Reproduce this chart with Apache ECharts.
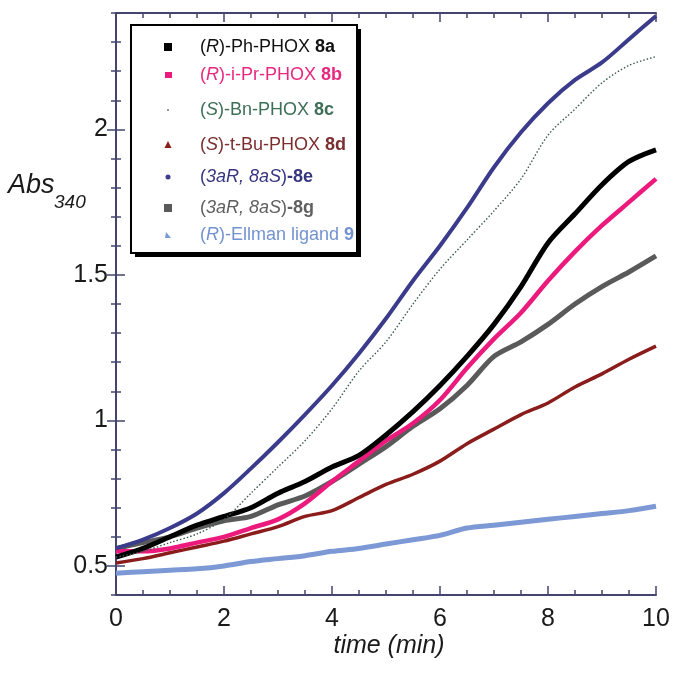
<!DOCTYPE html>
<html>
<head>
<meta charset="utf-8">
<script src="https://cdn.jsdelivr.net/npm/echarts@6/dist/echarts.min.js"></script>
<style>html,body{margin:0;padding:0;background:#fff}#c{width:675px;height:675px}</style>
</head>
<body>
<div id="c"></div>
<script>
// time (min)
const time = [0,0.5,1,1.5,2,2.5,3,3.5,4,4.5,5,5.5,6,6.5,7,7.5,8,8.5,9,9.5,10];
// Abs340 for each ligand
const ph8a   = [0.53,0.56,0.60,0.64,0.67,0.70,0.75,0.79,0.84,0.88,0.95,1.03,1.12,1.22,1.33,1.46,1.61,1.71,1.81,1.89,1.93];
const iPr8b  = [0.55,0.55,0.56,0.58,0.60,0.63,0.66,0.715,0.79,0.86,0.93,0.99,1.07,1.18,1.28,1.37,1.48,1.58,1.67,1.75,1.83];
const bn8c   = [0.53,0.55,0.58,0.61,0.66,0.75,0.84,0.93,1.04,1.17,1.27,1.40,1.52,1.62,1.72,1.83,1.98,2.07,2.16,2.22,2.25];
const tBu8d  = [0.51,0.525,0.545,0.565,0.585,0.61,0.635,0.67,0.69,0.735,0.78,0.815,0.86,0.92,0.97,1.02,1.06,1.115,1.16,1.21,1.255];
const l8e    = [0.56,0.59,0.63,0.68,0.75,0.835,0.925,1.02,1.12,1.23,1.35,1.48,1.60,1.73,1.87,1.99,2.09,2.17,2.23,2.31,2.39];
const l8g    = [0.56,0.58,0.60,0.63,0.655,0.67,0.71,0.74,0.79,0.85,0.91,0.98,1.04,1.12,1.22,1.27,1.33,1.40,1.46,1.51,1.565];
const ellman9= [0.475,0.48,0.485,0.49,0.50,0.515,0.525,0.535,0.55,0.56,0.575,0.59,0.605,0.63,0.64,0.65,0.66,0.67,0.68,0.69,0.705];
// tick labels
const yMajor = [0.5,1,1.5,2];

const frame = '#44446e';
const FONT = '"Liberation Sans", Arial, sans-serif';

function pts(arr){ return time.map((t,i)=>[t, arr[i]]); }

const chart = echarts.init(document.getElementById('c'));

const baseX = {type:'value', min:0, max:10, splitLine:{show:false}};
const baseY = {type:'value', min:0.4, max:2.4, splitLine:{show:false}};

const option = {
  animation:false,
  backgroundColor:'#fff',
  grid:{left:116, right:19, top:13, bottom:80},
  xAxis:[
    Object.assign({}, baseX, {position:'bottom', interval:0.5,
      axisLine:{show:true, lineStyle:{color:frame, width:2}},
      axisTick:{show:true, inside:true, length:5, lineStyle:{color:frame, width:1.5}},
      axisLabel:{show:true, margin:12, color:'#1a1a1a', fontSize:25, fontFamily:FONT,
        formatter:v => (Math.abs(v%2)<1e-9 ? String(v) : '')}}),
    Object.assign({}, baseX, {position:'bottom', interval:2,
      axisLine:{show:false}, axisLabel:{show:false},
      axisTick:{show:true, inside:true, length:9, lineStyle:{color:frame, width:1.5}}}),
    Object.assign({}, baseX, {position:'top', interval:0.5,
      axisLine:{show:true, lineStyle:{color:frame, width:2}}, axisLabel:{show:false},
      axisTick:{show:true, inside:true, length:5, lineStyle:{color:frame, width:1.5}}}),
    Object.assign({}, baseX, {position:'top', interval:2,
      axisLine:{show:false}, axisLabel:{show:false},
      axisTick:{show:true, inside:true, length:9, lineStyle:{color:frame, width:1.5}}})
  ],
  yAxis:[
    Object.assign({}, baseY, {position:'left', interval:0.1,
      axisLine:{show:true, lineStyle:{color:frame, width:2}},
      axisTick:{show:true, inside:true, length:5, lineStyle:{color:frame, width:1.5}},
      axisLabel:{show:true, margin:8, color:'#1a1a1a', fontSize:25, fontFamily:FONT,
        customValues: yMajor, formatter:v => String(Math.round(v*2)/2)}}),
    Object.assign({}, baseY, {position:'left', interval:0.1,
      axisLine:{show:false}, axisLabel:{show:false},
      axisTick:{show:true, inside:true, length:9, customValues: yMajor, lineStyle:{color:frame, width:1.5}}}),
    Object.assign({}, baseY, {position:'right', interval:0.1,
      axisLine:{show:true, lineStyle:{color:frame, width:2}}, axisLabel:{show:false},
      axisTick:{show:true, inside:true, length:5, lineStyle:{color:frame, width:1.5}}}),
    Object.assign({}, baseY, {position:'right', interval:0.1,
      axisLine:{show:false}, axisLabel:{show:false},
      axisTick:{show:true, inside:true, length:9, customValues: yMajor, lineStyle:{color:frame, width:1.5}}})
  ],
  series:[
    {name:'9', type:'line', data:pts(ellman9), showSymbol:false, smooth:0.3, color:'#7c99d6', lineStyle:{width:5, color:'#7c99d6'}},
    {name:'8d', type:'line', data:pts(tBu8d), showSymbol:false, smooth:0.3, color:'#8a1c1c', lineStyle:{width:3.5, color:'#8a1c1c'}},
    {name:'8g', type:'line', data:pts(l8g), showSymbol:false, smooth:0.3, color:'#5a5a5a', lineStyle:{width:5, color:'#5a5a5a'}},
    {name:'8b', type:'line', data:pts(iPr8b), showSymbol:false, smooth:0.3, color:'#ec1a7c', lineStyle:{width:4.5, color:'#ec1a7c'}},
    {name:'8a', type:'line', data:pts(ph8a), showSymbol:false, smooth:0.3, color:'#000000', lineStyle:{width:5, color:'#000000'}},
    {name:'8c', type:'line', data:pts(bn8c), showSymbol:false, smooth:0.3, color:'#3c5a4c', lineStyle:{width:1.4, color:'#3c5a4c', type:[1.5,2]}},
    {name:'8e', type:'line', data:pts(l8e), showSymbol:false, smooth:0.3, color:'#3b3b8c', lineStyle:{width:4, color:'#3b3b8c'}}
  ]
};

function richFor(c){
  return {
    n:{fill:c, fontSize:18, fontFamily:FONT},
    i:{fill:c, fontSize:18, fontFamily:FONT, fontStyle:'italic'},
    b:{fill:c, fontSize:18, fontFamily:FONT, fontWeight:'bold'}
  };
}
const legendRows = [
  {y:47,  c:'#111111', t:'{n|(}{i|R}{n|)-Ph-PHOX }{b|8a}', m:{type:'rect', shape:{x:164,y:43,width:8,height:8}}},
  {y:75,  c:'#e8277f', t:'{n|(}{i|R}{n|)-i-Pr-PHOX }{b|8b}', m:{type:'rect', shape:{x:165,y:72,width:7,height:6}}},
  {y:110, c:'#3d6f57', t:'{n|(}{i|S}{n|)-Bn-PHOX }{b|8c}', m:{type:'circle', shape:{cx:168,cy:110,r:1}}},
  {y:145, c:'#7b2e2e', t:'{n|(}{i|S}{n|)-t-Bu-PHOX }{b|8d}', m:{type:'polygon', shape:{points:[[168,141],[171.5,148],[164.5,148]]}}},
  {y:177, c:'#36357f', t:'{n|(}{i|3aR, 8aS}{n|)}{b|-8e}', m:{type:'circle', shape:{cx:168,cy:177,r:2.5}}},
  {y:208, c:'#5f5f5f', t:'{n|(}{i|3aR, 8aS}{n|)}{b|-8g}', m:{type:'rect', shape:{x:164,y:204,width:8,height:8}}},
  {y:235, c:'#7393d0', t:'{n|(}{i|R}{n|)-Ellman ligand }{b|9}', m:{type:'polygon', shape:{points:[[166,232],[171,238],[165,238]]}}}
];
const markerColors = ['#000000','#ec1a7c','#777777','#8a1c1c','#3b3b8c','#5a5a5a','#7c99d6'];

const graphics = [
  {type:'rect', shape:{x:135, y:29, width:226, height:228}, style:{fill:'#000'}, z:10},
  {type:'rect', shape:{x:131, y:25, width:226, height:228}, style:{fill:'#fff', stroke:'#000', lineWidth:2}, z:11},
  {type:'text', x:8, y:185, style:{text:'Abs', fill:'#1a1a1a', fontSize:27, fontFamily:FONT, fontStyle:'italic', verticalAlign:'middle'}, z:12},
  {type:'text', x:54, y:203, style:{text:'340', fill:'#1a1a1a', fontSize:19, fontFamily:FONT, fontStyle:'italic', verticalAlign:'middle'}, z:12},
  {type:'text', x:389, y:646, style:{text:'time (min)', fill:'#1a1a1a', fontSize:25, fontFamily:FONT, fontStyle:'italic', align:'center', verticalAlign:'middle'}, z:12}
];
legendRows.forEach((r, k) => {
  const m = Object.assign({}, r.m, {style:{fill:markerColors[k]}, z:12});
  graphics.push(m);
  graphics.push({type:'text', x:200, y:r.y, style:{text:r.t, rich:richFor(r.c), verticalAlign:'middle', fontSize:18, fontFamily:FONT}, z:12});
});
option.graphic = {elements: graphics};

chart.setOption(option);
</script>
</body>
</html>
